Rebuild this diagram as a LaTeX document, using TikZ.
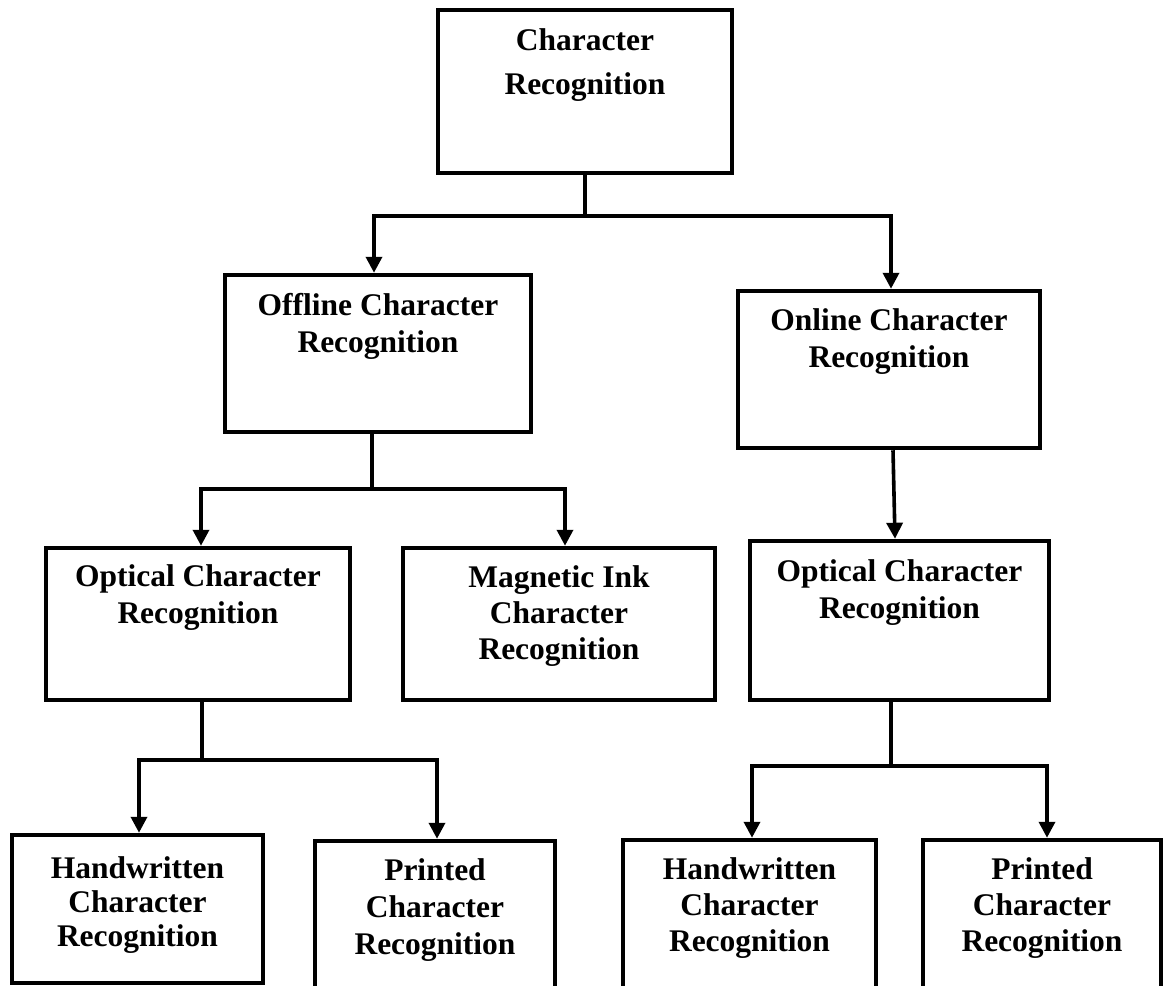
\documentclass[tikz,border=0pt]{standalone}
\usepackage{fontspec}
\setmainfont{Liberation Serif}
\usetikzlibrary{arrows.meta}

\begin{document}
\begin{tikzpicture}[x=1pt, y=-1pt,
  box/.style={draw=black, line width=4.5pt, rectangle, inner sep=0pt},
  lbl/.style={anchor=north, inner sep=0pt, align=center,
    font=\bfseries\fontsize{31.5}{37}\selectfont},
  link/.style={line width=3.6pt, line join=miter},
  arr/.style={link, -{Triangle[length=16pt, width=16pt]}}]

\clip (0,0) rectangle (1164,985);
\fill[white] (0,0) rectangle (1164,985);

% ---- boxes -------------------------------------------------------
\node[box, minimum width=294pt, minimum height=163pt] (cr) at (585,91.5)
  {}; \node[lbl, font=\bfseries\fontsize{31.5}{44}\selectfont] (crt) at ([yshift=-21pt]cr.north)
  {Character\\Recognition};

\node[box, minimum width=306pt, minimum height=157pt] (off) at (378,353.5) {};
\node[lbl] (offt) at ([yshift=-20pt]off.north) {Offline Character\\Recognition};

\node[box, minimum width=302pt, minimum height=157pt] (on) at (889,369.5) {};
\node[lbl] (ont) at ([yshift=-20pt]on.north) {Online Character\\Recognition};

\node[box, minimum width=304pt, minimum height=152pt] (opa) at (198,624) {};
\node[lbl] (opat) at ([yshift=-19pt]opa.north) {Optical Character\\Recognition};

\node[box, minimum width=312pt, minimum height=152pt] (mag) at (559,624) {};
\node[lbl, font=\bfseries\fontsize{31.5}{36}\selectfont] (magt) at ([yshift=-20pt]mag.north)
  {Magnetic Ink\\Character\\Recognition};

\node[box, minimum width=299pt, minimum height=159pt] (opb) at (899.5,620.5) {};
\node[lbl] (opbt) at ([yshift=-21pt]opb.north) {Optical Character\\Recognition};

\node[box, minimum width=251pt, minimum height=148pt] (hwa) at (137.5,909) {};
\node[lbl, font=\bfseries\fontsize{31.5}{34}\selectfont] (hwat) at ([yshift=-24pt]hwa.north)
  {Handwritten\\Character\\Recognition};

\node[box, minimum width=240pt, minimum height=169pt] (pra) at (435,925.5) {};
\node[lbl] (prat) at ([yshift=-20pt]pra.north) {Printed\\Character\\Recognition};

\node[box, minimum width=253pt, minimum height=170pt] (hwb) at (749.5,925) {};
\node[lbl, font=\bfseries\fontsize{31.5}{36}\selectfont] (hwbt) at ([yshift=-20pt]hwb.north)
  {Handwritten\\Character\\Recognition};

\node[box, minimum width=238pt, minimum height=170pt] (prb) at (1042,925) {};
\node[lbl, font=\bfseries\fontsize{31.5}{36}\selectfont] (prbt) at ([yshift=-20pt]prb.north)
  {Printed\\Character\\Recognition};

% ---- branch points -----------------------------------------------
\coordinate (ja)  at (585,216);
\coordinate (jal) at (374,216);
\coordinate (jar) at (891,216);
\coordinate (jb)  at (372,489);
\coordinate (jbl) at (201,489);
\coordinate (jbr) at (565,489);
\coordinate (jc)  at (202,760);
\coordinate (jcl) at (139,760);
\coordinate (jcr) at (437,760);
\coordinate (jd)  at (891,766);
\coordinate (jdl) at (752,766);
\coordinate (jdr) at (1047,766);

% ---- connectors --------------------------------------------------
\draw[arr] (cr.south) |- (jal) -- (jal |- off.north);
\draw[arr] (ja) -- (jar) -- (jar |- on.north);

\draw[arr] (off.south -| jb) |- (jbl) -- (jbl |- opa.north);
\draw[arr] (jb) -- (jbr) -- (jbr |- mag.north);

\draw[arr] ([xshift=4pt]on.south) -- ([xshift=-4.5pt]opb.north);

\draw[arr] (opa.south -| jc) |- (jcl) -- (jcl |- hwa.north);
\draw[arr] (jc) -- (jcr) -- (jcr |- pra.north);

\draw[arr] (opb.south -| jd) |- (jdl) -- (jdl |- hwb.north);
\draw[arr] (jd) -- (jdr) -- (jdr |- prb.north);
\end{tikzpicture}
\end{document}
